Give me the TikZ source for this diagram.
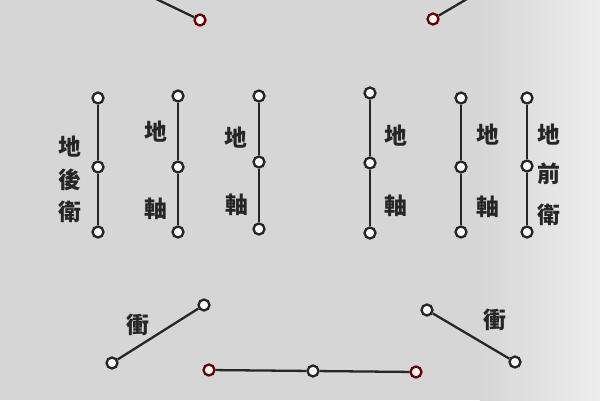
\documentclass[tikz,border=0pt]{standalone}
\usepackage{fontspec}
\newfontfamily\cjk{Noto Sans CJK TC}
\begin{document}
\begin{tikzpicture}[x=0.02cm,y=-0.02cm,
  star/.style={circle,draw=black!85,line width=1.3pt,fill=white!88!pink,minimum size=0.22cm,inner sep=0pt},
  redstar/.style={star,draw=black!60!red},
  link/.style={draw=black!85,line width=1.3pt},
  lab/.style={font=\cjk\bfseries\fontsize{13}{13}\selectfont,text=black!85,inner sep=0pt}]
\fill[black!16] (0,0) rectangle (480,400);
\shade[left color=black!16,right color=black!7] (480,0) rectangle (600,400);
\useasboundingbox (0,0) rectangle (600,400);
% top
\coordinate (tlEnd) at (150,-4);
\node[redstar] (tl) at (200,20) {};
\draw[link] (tlEnd) -- (tl);
\coordinate (trEnd) at (472,-4);
\node[redstar] (tr) at (433,19) {};
\draw[link] (trEnd) -- (tr);
% vertical groups
\foreach \n/\x/\a/\b/\c in {g1/98/98/167/232, g2/178/96/167/232, g3/259/96/162/229, g4/370/93/163/233, g5/461/98/167/232, g6/527/98/166/232}{
  \node[star] (\n a) at (\x,\a) {};
  \node[star] (\n b) at (\x,\b) {};
  \node[star] (\n c) at (\x,\c) {};
  \draw[link] (\n a) -- (\n b) -- (\n c);
}
\node[lab] (l1a) at (70,147) {地};
\node[lab] (l1b) at (70,180) {後};
\node[lab] (l1c) at (70,212) {衛};
\node[lab] (l2a) at (156,132) {地};
\node[lab] (l2b) at (156,209) {軸};
\node[lab] (l3a) at (236,138) {地};
\node[lab] (l3b) at (237,205) {軸};
\node[lab] (l4a) at (396,136) {地};
\node[lab] (l4b) at (396,206) {軸};
\node[lab] (l5a) at (488,135) {地};
\node[lab] (l5b) at (488,207) {軸};
\node[lab] (l6a) at (549,135) {地};
\node[lab] (l6b) at (549,174) {前};
\node[lab] (l6c) at (549,215) {衛};
% diagonals
\node[star] (dl1) at (112,363) {};
\node[star] (dl2) at (204,305) {};
\draw[link] (dl1) -- (dl2);
\node[lab] (dll) at (138,325) {衝};
\node[star] (dr1) at (427,310) {};
\node[star] (dr2) at (515,362) {};
\draw[link] (dr1) -- (dr2);
\node[lab] (drl) at (495,320) {衝};
% bottom
\node[redstar] (b1) at (209,370) {};
\node[star] (b2) at (313,371) {};
\node[redstar] (b3) at (416,372) {};
\draw[link] (b1) -- (b2) -- (b3);
\end{tikzpicture}
\end{document}
